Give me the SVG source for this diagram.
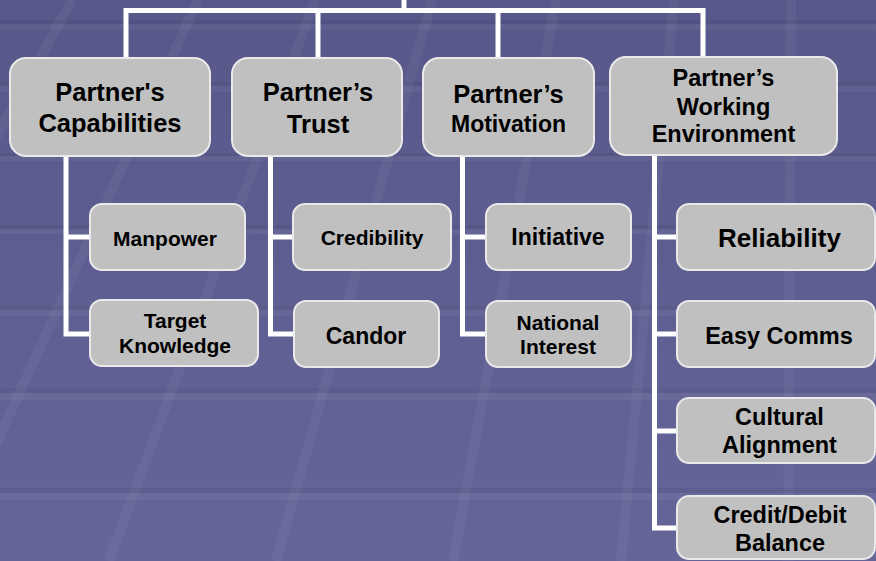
<svg xmlns="http://www.w3.org/2000/svg" width="876" height="561" viewBox="0 0 876 561">
  <defs>
    <linearGradient id="bg" x1="0" y1="0" x2="0" y2="1">
      <stop offset="0" stop-color="#57578a"/>
      <stop offset="1" stop-color="#656599"/>
    </linearGradient>
  </defs>
  <style>
    .box { fill: #c0c0c0; stroke: #e9e9e9; stroke-width: 2; }
    .t { font-family: "Liberation Sans", Arial, sans-serif; font-weight: bold; fill: #000; text-anchor: middle; }
    .wire { fill: none; stroke: #ffffff; stroke-width: 5; stroke-linejoin: miter; }
    .stripe { stroke: #ffffff; stroke-opacity: 0.045; stroke-width: 10; }
    .band-d { fill: #000000; fill-opacity: 0.05; }
    .band-l { fill: #ffffff; fill-opacity: 0.05; }
  </style>

  <!-- backdrop: floor-like grid of faint bands and converging stripes -->
  <rect x="0" y="0" width="876" height="561" fill="url(#bg)"/>
  <g id="backdrop">
    <rect class="band-d" x="0" y="20" width="876" height="4"/>
    <rect class="band-l" x="0" y="24" width="876" height="6"/>
    <rect class="band-d" x="0" y="82" width="876" height="4"/>
    <rect class="band-l" x="0" y="86" width="876" height="6"/>
    <rect class="band-d" x="0" y="153" width="876" height="3"/>
    <rect class="band-l" x="0" y="156" width="876" height="5"/>
    <rect class="band-d" x="0" y="225" width="876" height="4"/>
    <rect class="band-l" x="0" y="229" width="876" height="5"/>
    <rect class="band-d" x="0" y="306" width="876" height="4"/>
    <rect class="band-l" x="0" y="310" width="876" height="6"/>
    <rect class="band-d" x="0" y="388" width="876" height="5"/>
    <rect class="band-l" x="0" y="393" width="876" height="7"/>
    <rect class="band-d" x="0" y="488" width="876" height="5"/>
    <rect class="band-l" x="0" y="493" width="876" height="7"/>
    <line class="stripe" x1="72" y1="0" x2="-237" y2="561"/>
    <line class="stripe" x1="198" y1="0" x2="-57" y2="561"/>
    <line class="stripe" x1="315" y1="0" x2="109" y2="561"/>
    <line class="stripe" x1="432" y1="0" x2="276" y2="561"/>
    <line class="stripe" x1="556" y1="0" x2="453" y2="561"/>
    <line class="stripe" x1="674" y1="0" x2="621" y2="561"/>
    <line class="stripe" x1="791" y1="0" x2="788" y2="561"/>
  </g>

  <!-- connectors -->
  <g id="connectors">
    <path class="wire" d="M404,0 V10.5"/>
    <path class="wire" d="M126,58 V10.5 H703 V57"/>
    <path class="wire" d="M318,10.5 V58"/>
    <path class="wire" d="M498,10.5 V58"/>

    <path class="wire" d="M66,156 V334 H90"/>
    <path class="wire" d="M66,237 H90"/>

    <path class="wire" d="M270.5,156 V334 H294"/>
    <path class="wire" d="M270.5,237 H293"/>

    <path class="wire" d="M462.5,156 V334 H486"/>
    <path class="wire" d="M462.5,237 H486"/>

    <path class="wire" d="M654.5,155 V528 H677"/>
    <path class="wire" d="M654.5,237 H677"/>
    <path class="wire" d="M654.5,334 H677"/>
    <path class="wire" d="M654.5,431 H677"/>
  </g>

  <!-- top-level categories -->
  <g id="capabilities">
    <rect class="box" x="10" y="58" width="200" height="98" rx="16"/>
    <text class="t" x="110" y="100.5" font-size="25.5">Partner's</text>
    <text class="t" x="110" y="131.5" font-size="25.5">Capabilities</text>
  </g>
  <g id="trust">
    <rect class="box" x="232" y="58" width="170" height="98" rx="16"/>
    <text class="t" x="318" y="100.5" font-size="25.5">Partner’s</text>
    <text class="t" x="318" y="132.5" font-size="25.5">Trust</text>
  </g>
  <g id="motivation">
    <rect class="box" x="423" y="58" width="171" height="98" rx="16"/>
    <text class="t" x="508.5" y="102.5" font-size="25.5">Partner’s</text>
    <text class="t" x="508.5" y="131.5" font-size="23">Motivation</text>
  </g>
  <g id="environment">
    <rect class="box" x="610" y="57" width="227" height="98" rx="16"/>
    <text class="t" x="723.5" y="85.5" font-size="23.5">Partner’s</text>
    <text class="t" x="723.5" y="115" font-size="23.5">Working</text>
    <text class="t" x="723.5" y="142" font-size="23.5">Environment</text>
  </g>

  <!-- capabilities children -->
  <g id="manpower">
    <rect class="box" x="90" y="204" width="155" height="66" rx="12"/>
    <text class="t" x="165" y="246" font-size="21">Manpower</text>
  </g>
  <g id="target-knowledge">
    <rect class="box" x="90" y="300" width="168" height="66" rx="12"/>
    <text class="t" x="175" y="328" font-size="21">Target</text>
    <text class="t" x="175" y="353" font-size="21">Knowledge</text>
  </g>

  <!-- trust children -->
  <g id="credibility">
    <rect class="box" x="293" y="204" width="158" height="66" rx="12"/>
    <text class="t" x="372" y="245" font-size="21">Credibility</text>
  </g>
  <g id="candor">
    <rect class="box" x="294" y="301" width="145" height="66" rx="12"/>
    <text class="t" x="366" y="343.5" font-size="23">Candor</text>
  </g>

  <!-- motivation children -->
  <g id="initiative">
    <rect class="box" x="486" y="204" width="145" height="66" rx="12"/>
    <text class="t" x="558" y="245" font-size="23">Initiative</text>
  </g>
  <g id="national-interest">
    <rect class="box" x="486" y="301" width="145" height="66" rx="12"/>
    <text class="t" x="558" y="330" font-size="21">National</text>
    <text class="t" x="558" y="354" font-size="21">Interest</text>
  </g>

  <!-- working environment children -->
  <g id="reliability">
    <rect class="box" x="677" y="204" width="198" height="66" rx="12"/>
    <text class="t" x="779.5" y="246.5" font-size="26">Reliability</text>
  </g>
  <g id="easy-comms">
    <rect class="box" x="677" y="301" width="198" height="66" rx="12"/>
    <text class="t" x="779" y="344" font-size="23.5">Easy Comms</text>
  </g>
  <g id="cultural-alignment">
    <rect class="box" x="677" y="398" width="198" height="65" rx="12"/>
    <text class="t" x="779.5" y="425" font-size="23.5">Cultural</text>
    <text class="t" x="779.5" y="453" font-size="23.5">Alignment</text>
  </g>
  <g id="credit-debit">
    <rect class="box" x="677" y="496" width="198" height="63" rx="12"/>
    <text class="t" x="780" y="523" font-size="23.5">Credit/Debit</text>
    <text class="t" x="780" y="550.5" font-size="23.5">Balance</text>
  </g>
</svg>
